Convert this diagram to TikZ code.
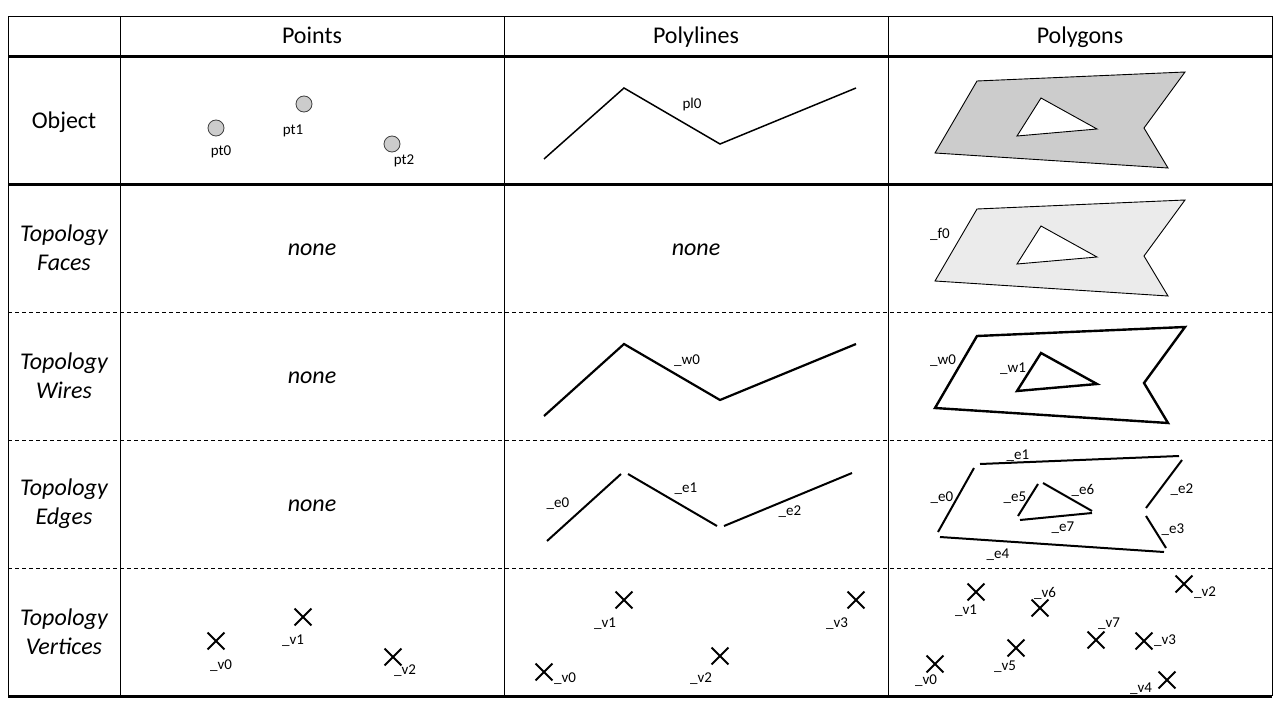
\documentclass[tikz,border=0pt]{standalone}
\usepackage{fontspec}
\setmainfont{Carlito}
\usetikzlibrary{shapes.misc}
\begin{document}
\begin{tikzpicture}[x=1pt,y=-1pt,
  big/.style={font=\fontsize{24}{29}\selectfont, align=center, inner sep=0pt},
  bigit/.style={font=\fontsize{24}{29}\selectfont\itshape, align=center, inner sep=0pt},
  lbl/.style={font=\fontsize{15}{18}\selectfont, inner sep=0pt},
  thinrule/.style={line width=1pt},
  thickrule/.style={line width=3pt},
  dashrule/.style={line width=1pt, dash pattern=on 4pt off 3pt},
  ptc/.style={circle, draw=black!75, fill=black!20, minimum size=16pt, inner sep=0pt, line width=0.8pt},
  vx/.style={cross out, draw, minimum size=15pt, inner sep=0pt, line width=1.8pt},
  objline/.style={line width=1.5pt, line join=miter},
  wireline/.style={line width=2.2pt, line join=miter},
  edgeline/.style={line width=2pt},
  polyout/.style={line width=0.9pt, line join=miter},
  polywire/.style={line width=2.4pt, line join=miter}]
\useasboundingbox (0,0) rectangle (1280,720);
\fill[white] (0,0) rectangle (1280,720);

% ---------- table rules ----------
\draw[thinrule] (8,16) -- (1272,16);
\foreach \x in {8,120,504,888,1272} \draw[thinrule] (\x,16) -- (\x,696);
\foreach \y in {312,440,568} \draw[dashrule] (8,\y) -- (1272,\y);
\foreach \y in {56,184,696} \draw[thickrule] (8,\y) -- (1272,\y);

% ---------- headers ----------
\node[big, anchor=base] (hpoints) at (312,43) {Points};
\node[big, anchor=base] (hpolylines) at (696,43) {Polylines};
\node[big, anchor=base] (hpolygons) at (1080,43) {Polygons};

% ---------- row labels ----------
\node[big, anchor=base] (robject) at (64,128) {Object};
\node[bigit] (rfaces) at (64,248) {Topology\\Faces};
\node[bigit] (rwires) at (64,376) {Topology\\Wires};
\node[bigit] (redges) at (64,504) {Topology\\Edges};
\node[bigit] (rverts) at (64,632) {Topology\\Vertices};

% ---------- none ----------
\node[bigit, anchor=base] (n1) at (312,255) {none};
\node[bigit, anchor=base] (n2) at (696,255) {none};
\node[bigit, anchor=base] (n3) at (312,383) {none};
\node[bigit, anchor=base] (n4) at (312,511) {none};

% ---------- Object row ----------
\node[ptc] (pt0) at (216,128) {};
\node[ptc] (pt1) at (304,104) {};
\node[ptc] (pt2) at (392,144) {};
\node[lbl] (lpt0) at (221,152) {pt0};
\node[lbl] (lpt1) at (293,131) {pt1};
\node[lbl] (lpt2) at (404,161) {pt2};

\draw[objline] (544,159) -- (624,88) -- (720,144) -- (856,88);
\node[lbl] (lpl0) at (692,104) {pl0};

\fill[black!20, even odd rule]
  (977,81) -- (1185,72) -- (1144,128) -- (1168,168) -- (935,153) -- cycle
  (1041,98) -- (1097,129) -- (1017,136) -- cycle;
\draw[polyout] (977,81) -- (1185,72) -- (1144,128) -- (1168,168) -- (935,153) -- cycle;
\draw[polyout] (1041,98) -- (1097,129) -- (1017,136) -- cycle;

% ---------- Faces row ----------
\begin{scope}[shift={(0,128)}]
\fill[black!8, even odd rule]
  (977,81) -- (1185,72) -- (1144,128) -- (1168,168) -- (935,153) -- cycle
  (1041,98) -- (1097,129) -- (1017,136) -- cycle;
\draw[polyout] (977,81) -- (1185,72) -- (1144,128) -- (1168,168) -- (935,153) -- cycle;
\draw[polyout] (1041,98) -- (1097,129) -- (1017,136) -- cycle;
\end{scope}
\node[lbl] (lf0) at (940,234) {\_f0};

% ---------- Wires row ----------
\draw[wireline] (544,416) -- (624,344) -- (720,400) -- (856,344);
\node[lbl] (lw0p) at (687,361) {\_w0};
\begin{scope}[shift={(0,255)}]
\draw[polywire] (977,81) -- (1185,72) -- (1144,128) -- (1168,168) -- (935,153) -- cycle;
\draw[polywire] (1041,98) -- (1097,129) -- (1017,136) -- cycle;
\end{scope}
\node[lbl] (lw0) at (943,361) {\_w0};
\node[lbl] (lw1) at (1013,369) {\_w1};

% ---------- Edges row ----------
\draw[edgeline] (547,541) -- (621,474);
\draw[edgeline] (628,474) -- (717,526);
\draw[edgeline] (724,526) -- (852,473);
\node[lbl] (le0p) at (558,504) {\_e0};
\node[lbl] (le1p) at (686,489) {\_e1};
\node[lbl] (le2p) at (790,512) {\_e2};

\draw[edgeline] (974,468) -- (938,532);
\draw[edgeline] (980,464) -- (1179,456);
\draw[edgeline] (1182,460) -- (1146,508);
\draw[edgeline] (1146,516) -- (1166,548);
\draw[edgeline] (940,537) -- (1164,552);
\draw[edgeline] (1038,484) -- (1018,516);
\draw[edgeline] (1043,483) -- (1092,511);
\draw[edgeline] (1020,520) -- (1092,513);
\node[lbl] (le0) at (942,498) {\_e0};
\node[lbl] (le1) at (1018,456) {\_e1};
\node[lbl] (le2) at (1182,490) {\_e2};
\node[lbl] (le3) at (1173,530) {\_e3};
\node[lbl] (le4) at (998,555) {\_e4};
\node[lbl] (le5) at (1015,498) {\_e5};
\node[lbl] (le6) at (1083,490) {\_e6};
\node[lbl] (le7) at (1063,528) {\_e7};

% ---------- Vertices row ----------
\node[vx] (pv0) at (216,641) {};
\node[vx] (pv1) at (303,617) {};
\node[vx] (pv2) at (393,657) {};
\node[lbl] (lpv0) at (221,666) {\_v0};
\node[lbl] (lpv1) at (293,641) {\_v1};
\node[lbl] (lpv2) at (405,671) {\_v2};

\node[vx] (lv0) at (544,672) {};
\node[vx] (lv1) at (624,600) {};
\node[vx] (lv2) at (720,656) {};
\node[vx] (lv3) at (856,600) {};
\node[lbl] (llv0) at (565,679) {\_v0};
\node[lbl] (llv1) at (605,624) {\_v1};
\node[lbl] (llv2) at (701,679) {\_v2};
\node[lbl] (llv3) at (837,624) {\_v3};

\node[vx] (gv0) at (935,664) {};
\node[vx] (gv1) at (976,592) {};
\node[vx] (gv2) at (1184,584) {};
\node[vx] (gv3) at (1144,641) {};
\node[vx] (gv4) at (1167,680) {};
\node[vx] (gv5) at (1016,648) {};
\node[vx] (gv6) at (1040,608) {};
\node[vx] (gv7) at (1096,640) {};
\node[lbl] (lgv0) at (926,681) {\_v0};
\node[lbl] (lgv1) at (966,611) {\_v1};
\node[lbl] (lgv2) at (1205,593) {\_v2};
\node[lbl] (lgv3) at (1165,641) {\_v3};
\node[lbl] (lgv4) at (1141,689) {\_v4};
\node[lbl] (lgv5) at (1005,667) {\_v5};
\node[lbl] (lgv6) at (1045,593) {\_v6};
\node[lbl] (lgv7) at (1109,624) {\_v7};
\end{tikzpicture}
\end{document}
